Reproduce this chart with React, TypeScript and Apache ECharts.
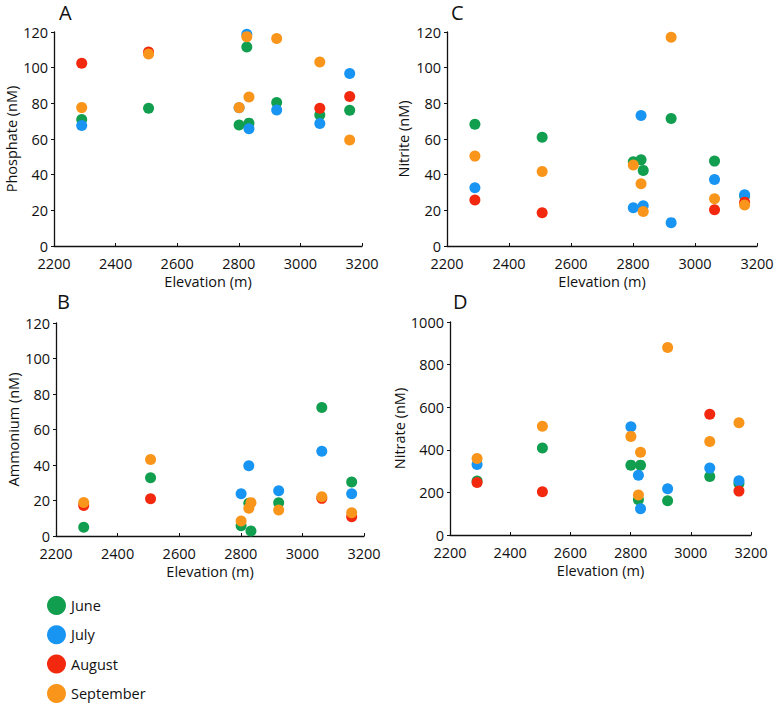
import React, { useEffect, useRef } from "react";
import * as echarts from "echarts";

const months = ["June", "July", "August", "September"];
const monthColors = ["#119e4f", "#1895f3", "#f3290f", "#f9951a"];
const stations = [2290, 2507, 2801, 2826, 2833, 2923, 3063, 3160];

const phosphate = [
  [70.9, 77.3, 67.9, 111.6, 68.9, 80.4, 73.5, 76.1],
  [67.6, null, 77.5, 118.7, 65.7, 76.3, 68.7, 96.7],
  [102.5, 108.8, null, null, null, null, 77.3, 83.8],
  [77.6, 107.7, 77.6, 117.4, 83.6, 116.3, 103.2, 59.5],
];
const nitrite = [
  [68.3, 61.0, 47.2, 48.3, 42.4, 71.5, 47.6, 28.0],
  [32.7, null, 21.5, 73.2, 22.6, 13.1, 37.3, 28.7],
  [25.8, 18.7, null, null, null, null, 20.3, 24.6],
  [50.4, 41.8, 45.4, 34.9, 19.4, 117.0, 26.5, 23.0],
];
const ammonium = [
  [4.9, 32.8, 5.8, 18.5, 2.8, 18.7, 72.4, 30.4],
  [null, null, 23.8, 39.6, null, 25.5, 47.8, 23.8],
  [17.2, 21.0, null, null, null, null, 21.2, 10.9],
  [18.9, 43.1, 8.4, 15.6, 18.8, 14.6, 22.1, 13.1],
];
const nitrate = [
  [253, 408, 328, 166, 328, 161, 275, 242],
  [331, null, 508, 281, 123, 217, 314, 255],
  [247, 203, null, null, null, null, 567, 206],
  [359, 511, 463, 188, 389, 880, 439, 527],
];

const xTicks = { min: 2200, max: 3200, interval: 200 };
const panelNames = ["Phosphate (nM)", "Nitrite (nM)", "Ammonium (nM)", "Nitrate (nM)"];
const panelLetters = ["A", "C", "B", "D"];
const panelY = [
  { min: 0, max: 120, interval: 20 },
  { min: 0, max: 120, interval: 20 },
  { min: 0, max: 120, interval: 20 },
  { min: 0, max: 1000, interval: 200 },
];

const FONT = "'Open Sans', 'Noto Sans', sans-serif";
const FS = 14.5;

export default function App() {
  const ref = useRef<HTMLDivElement>(null);
  useEffect(() => {
    document.body.style.margin = "0";
    const chart = echarts.init(ref.current!, undefined, { renderer: "svg" });
    const panelData = [phosphate, nitrite, ammonium, nitrate];
    const grids = [
      { left: 54, top: 32, width: 308, height: 214 },
      { left: 447, top: 32, width: 310, height: 214 },
      { left: 56, top: 323, width: 308, height: 213 },
      { left: 450, top: 322, width: 301, height: 213 },
    ];
    const yNameGaps = [33, 36, 35, 40];
    const letterPos = [
      [59, 2],
      [451, 2],
      [57, 291],
      [453, 291],
    ];
    const black = "#111";
    const fmt = (v: number) => String(v);
    const xAxis = grids.map((_, i) => ({
      type: "value",
      gridIndex: i,
      min: xTicks.min,
      max: xTicks.max,
      interval: xTicks.interval,
      name: "Elevation (m)",
      nameLocation: "middle",
      nameGap: 28,
      nameTextStyle: { color: black, fontSize: FS, fontFamily: FONT },
      axisLine: { show: true, lineStyle: { color: black, width: 1.3 } },
      axisTick: { show: true, inside: true, length: 3, lineStyle: { color: black } },
      axisLabel: {
        color: black,
        fontSize: FS,
        fontFamily: FONT,
        margin: 10,
        lineHeight: 15,
        formatter: fmt,
      },
      splitLine: { show: false },
    }));
    const yAxis = grids.map((_, i) => ({
      type: "value",
      gridIndex: i,
      min: panelY[i].min,
      max: panelY[i].max,
      interval: panelY[i].interval,
      name: panelNames[i],
      nameLocation: "middle",
      nameRotate: 90,
      nameGap: yNameGaps[i],
      nameTextStyle: { color: black, fontSize: FS, fontFamily: FONT },
      axisLine: { show: true, lineStyle: { color: black, width: 1.3 } },
      axisTick: { show: true, inside: false, length: 3, lineStyle: { color: black } },
      axisLabel: {
        color: black,
        fontSize: FS,
        fontFamily: FONT,
        margin: 6,
        lineHeight: 15,
        formatter: fmt,
      },
      splitLine: { show: false },
    }));
    const series: any[] = [];
    panelData.forEach((pd, p) => {
      pd.forEach((vals, m) => {
        series.push({
          type: "scatter",
          name: months[m],
          xAxisIndex: p,
          yAxisIndex: p,
          symbol: "circle",
          symbolSize: 11,
          itemStyle: { color: monthColors[m], opacity: 1 },
          data: stations
            .map((x, i) => [x, vals[i]])
            .filter((d) => d[1] !== null && d[1] !== undefined),
        });
      });
    });
    chart.setOption({
      animation: false,
      color: monthColors,
      textStyle: { fontFamily: FONT },
      grid: grids.map((g) => ({ ...g, containLabel: false })),
      xAxis,
      yAxis,
      series,
      legend: {
        data: months,
        orient: "vertical",
        left: 42,
        top: 591,
        height: 118,
        icon: "circle",
        itemWidth: 19,
        itemHeight: 19,
        itemGap: 10.3,
        selectedMode: false,
        textStyle: { color: black, fontSize: FS, fontFamily: FONT },
      },
      graphic: panelLetters.map((l, i) => ({
        type: "text",
        left: letterPos[i][0],
        top: letterPos[i][1],
        style: { text: l, fontSize: 20, fontFamily: FONT, fill: black },
      })),
    });
    return () => chart.dispose();
  }, []);
  return (
    <div
      ref={ref}
      style={{ position: "absolute", left: 0, top: 0, width: 779, height: 709, background: "#fff" }}
    />
  );
}
